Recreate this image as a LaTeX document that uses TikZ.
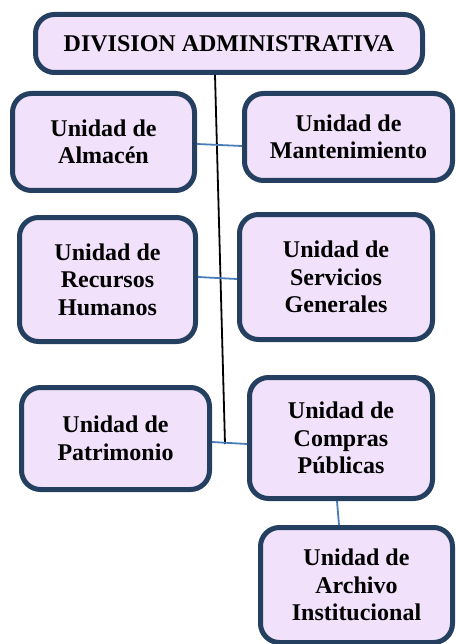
\documentclass[tikz,border=0pt]{standalone}
\usepackage{fontspec}
\setmainfont{Liberation Serif}
\definecolor{boxborder}{HTML}{243F60}
\definecolor{boxfill}{HTML}{F1E1FA}
\definecolor{linkblue}{HTML}{4A7EBB}
\begin{document}
\begin{tikzpicture}[x=1pt,y=-1pt,
  unitbox/.style={draw=boxborder,fill=boxfill,line width=5pt,rounded corners=19pt,
    align=center,inner sep=0pt,font=\fontsize{24}{27.5}\selectfont\bfseries},
  link/.style={draw=linkblue,line width=1.8pt},
  trunk/.style={draw=black,line width=1.8pt}]
\useasboundingbox (0,0) rectangle (456,644);
\node[unitbox,minimum width=387pt,minimum height=58pt] (top) at (229,43.5) {DIVISION ADMINISTRATIVA};
\node[unitbox,minimum width=182pt,minimum height=97pt] (alm) at (103.5,142) {Unidad de\\Almacén};
\node[unitbox,minimum width=208pt,minimum height=87pt] (mant) at (348.5,137) {Unidad de\\Mantenimiento};
\node[unitbox,minimum width=176pt,minimum height=124pt] (rec) at (107.5,279.5) {Unidad de\\Recursos\\Humanos};
\node[unitbox,minimum width=193pt,minimum height=125pt] (serv) at (336,277) {Unidad de\\Servicios\\Generales};
\node[unitbox,minimum width=188pt,minimum height=102pt] (pat) at (115.5,438.5) {Unidad de\\Patrimonio};
\node[unitbox,minimum width=183pt,minimum height=121pt] (comp) at (341,438) {Unidad de\\Compras\\Públicas};
\node[unitbox,minimum width=192pt,minimum height=115pt] (arch) at (356.5,585) {Unidad de\\Archivo\\Institucional};
\coordinate (trunkend) at (225,444);
\draw[trunk] ([xshift=-14pt]top.south) -- (trunkend);
\draw[link] ([yshift=-2pt]alm.east) -- ([yshift=-9pt]mant.west);
\draw[link] ([yshift=2.5pt]rec.east) -- ([yshift=-2pt]serv.west);
\draw[link] ([yshift=-3.5pt]pat.east) -- ([yshift=-6pt]comp.west);
\draw[link] ([xshift=-4pt]comp.south) -- ([xshift=-17.5pt]arch.north);
\end{tikzpicture}
\end{document}
